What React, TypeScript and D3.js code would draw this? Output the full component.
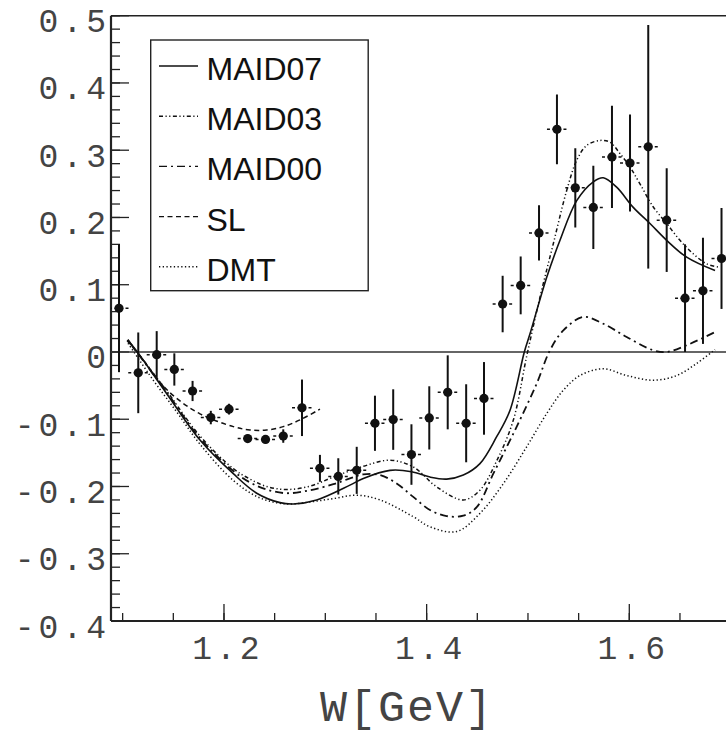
import React from "react";
import * as d3 from "d3";

// ---- data (W in GeV, asymmetry) ----
const dataW = [1.0964, 1.1154, 1.1336, 1.151, 1.169, 1.187, 1.205, 1.2234, 1.241, 1.2585, 1.277, 1.2947, 1.3128, 1.331, 1.349, 1.367, 1.385, 1.4026, 1.4208, 1.439, 1.4566, 1.475, 1.4928, 1.5109, 1.5286, 1.5467, 1.5645, 1.5829, 1.6007, 1.6187, 1.6369, 1.655, 1.6727, 1.691];
const dataV = [0.065, -0.031, -0.004, -0.026, -0.058, -0.0975, -0.085, -0.1287, -0.13, -0.125, -0.083, -0.173, -0.185, -0.176, -0.106, -0.1005, -0.1525, -0.098, -0.06, -0.106, -0.069, 0.0713, 0.099, 0.177, 0.331, 0.244, 0.215, 0.29, 0.281, 0.305, 0.196, 0.08, 0.091, 0.139];
const dataErr = [0.095, 0.06, 0.035, 0.024, 0.015, 0.01, 0.008, 0.006, 0.006, 0.01, 0.042, 0.02, 0.027, 0.035, 0.041, 0.045, 0.045, 0.047, 0.055, 0.058, 0.054, 0.042, 0.043, 0.041, 0.052, 0.059, 0.062, 0.076, 0.072, 0.181, 0.077, 0.08, 0.079, 0.075];

const maid07: [number, number][] = [
  [1.105, 0.018], [1.1154, -0.002], [1.1435, -0.062], [1.1763, -0.131], [1.2092, -0.181], [1.2323, -0.21],
  [1.2553, -0.224], [1.2684, -0.226], [1.2915, -0.22], [1.3243, -0.198], [1.3375, -0.188], [1.3638, -0.176],
  [1.3852, -0.178], [1.4033, -0.186], [1.4198, -0.189], [1.4362, -0.183], [1.4526, -0.166], [1.4691, -0.126],
  [1.4822, -0.087], [1.4964, 0.0], [1.502, 0.027], [1.5185, 0.111], [1.5316, 0.166], [1.5481, 0.225],
  [1.5645, 0.253], [1.5743, 0.259], [1.5875, 0.245], [1.6039, 0.215], [1.6204, 0.191], [1.6369, 0.166],
  [1.6566, 0.141], [1.6846, 0.121],
];
const maid03: [number, number][] = [
  [1.105, 0.018], [1.1435, -0.058], [1.1763, -0.125], [1.2092, -0.1735], [1.2257, -0.189], [1.2421, -0.2],
  [1.2619, -0.2045], [1.2849, -0.1995], [1.3079, -0.186], [1.3375, -0.17], [1.3638, -0.161], [1.3868, -0.171],
  [1.4099, -0.2006], [1.4362, -0.22], [1.4526, -0.2055], [1.4691, -0.162], [1.4855, -0.1015], [1.4987, -0.0064],
  [1.5119, 0.0817], [1.525, 0.161], [1.5382, 0.24], [1.5481, 0.285], [1.5579, 0.307], [1.5711, 0.3145],
  [1.5809, 0.312], [1.5908, 0.295], [1.6007, 0.275], [1.6105, 0.25], [1.6237, 0.2155], [1.6369, 0.191],
  [1.65, 0.166], [1.6631, 0.146], [1.6764, 0.131], [1.6895, 0.126],
];
const maid00: [number, number][] = [
  [1.105, 0.018], [1.1435, -0.06], [1.1763, -0.128], [1.2092, -0.177], [1.2257, -0.194], [1.2421, -0.2045],
  [1.2619, -0.21], [1.2849, -0.2055], [1.3079, -0.1966], [1.3243, -0.188], [1.3375, -0.182], [1.354, -0.183],
  [1.3704, -0.1955], [1.3868, -0.2155], [1.4033, -0.235], [1.4198, -0.244], [1.4362, -0.2434], [1.4494, -0.2308],
  [1.4658, -0.181], [1.4889, -0.111], [1.5086, -0.047], [1.5217, 0.0025], [1.5349, 0.032], [1.5546, 0.052],
  [1.5743, 0.042], [1.5974, 0.0223], [1.6237, 0.0025], [1.6369, 0.0], [1.6566, 0.01], [1.6846, 0.0297],
];
const sl: [number, number][] = [
  [1.1043, 0.017], [1.1204, -0.012], [1.1368, -0.045], [1.1533, -0.069], [1.1763, -0.092], [1.2092, -0.111],
  [1.2257, -0.116], [1.2421, -0.116], [1.2585, -0.111], [1.275, -0.101], [1.2947, -0.085],
];
const dmt: [number, number][] = [
  [1.1053, 0.013], [1.1302, -0.042], [1.1533, -0.089], [1.1763, -0.137], [1.2092, -0.191], [1.2355, -0.217],
  [1.2619, -0.226], [1.2849, -0.223], [1.3079, -0.218], [1.331, -0.213], [1.354, -0.22], [1.3868, -0.245],
  [1.4033, -0.26], [1.4296, -0.267], [1.4526, -0.24], [1.4756, -0.196], [1.4987, -0.141], [1.5185, -0.0915],
  [1.5348, -0.057], [1.5513, -0.035], [1.5743, -0.025], [1.5974, -0.035], [1.6237, -0.042], [1.6468, -0.035],
  [1.6665, -0.017], [1.6846, 0.0036],
];

const yTicks = [0.5, 0.4, 0.3, 0.2, 0.1, 0, -0.1, -0.2, -0.3, -0.4];
const yTickLabels = ["0.5", "0.4", "0.3", "0.2", "0.1", "0", "-0.1", "-0.2", "-0.3", "-0.4"];
const xTicks = [1.2, 1.4, 1.6];
const xTickLabels = ["1.2", "1.4", "1.6"];
const legendNames = ["MAID07", "MAID03", "MAID00", "SL", "DMT"];
const xTitle = "W[GeV]";

const W = 726, H = 734;
const L = 111, T = 15.7, B = 621;

export default function App() {
  const x = d3.scaleLinear().domain([1.0885, 1.7]).range([L, L + 0.6115 * 1013.3]);
  const y = d3.scaleLinear().domain([-0.4, 0.5]).range([B, T]);
  const line = d3.line<[number, number]>().x(d => x(d[0])).y(d => y(d[1])).curve(d3.curveCatmullRom.alpha(0.5));

  const styles = [
    { data: maid07, dash: "none", w: 1.6 },
    { data: maid03, dash: "4,2.5,1.2,2.5,1.2,2.5", w: 1.5 },
    { data: maid00, dash: "8,4,2,4", w: 1.8 },
    { data: sl, dash: "5,3.5", w: 1.5 },
    { data: dmt, dash: "1.3,2.4", w: 1.5 },
  ];

  const minorY = d3.range(-0.4, 0.5001, 0.02);
  const minorX = d3.range(1.1, 1.7001, 0.05);
  const monoFont = "'Liberation Mono', 'DejaVu Sans Mono', monospace";
  const sansFont = "'Liberation Sans', Arial, sans-serif";

  return (
    <svg width={W} height={H} style={{ position: "absolute", left: 0, top: 0, background: "#fff" }}>
      <defs>
        <clipPath id="plot">
          <rect x={L} y={T} width={W - L} height={B - T} />
        </clipPath>
      </defs>
      {/* frame */}
      <line x1={L} x2={W} y1={T} y2={T} stroke="#222" strokeWidth={1.4} />
      <line x1={L} x2={W} y1={B} y2={B} stroke="#222" strokeWidth={2.2} />
      <line x1={L} x2={L} y1={T} y2={B} stroke="#222" strokeWidth={2.2} />
      {/* y ticks */}
      {minorY.map((v, i) => (
        <line key={"my" + i} x1={L} x2={L + 9} y1={y(v)} y2={y(v)} stroke="#222" strokeWidth={1.3} />
      ))}
      {yTicks.map((v, i) => (
        <g key={"y" + i}>
          <line x1={L} x2={L + 18} y1={y(v)} y2={y(v)} stroke="#222" strokeWidth={1.3} />
          <text x={L - 1} y={y(v) + 16.5} textAnchor="end" fontFamily={monoFont} fontSize={33} letterSpacing={4} fill="#444">
            {yTickLabels[i]}
          </text>
        </g>
      ))}
      {/* x ticks */}
      {minorX.map((v, i) => (
        <line key={"mx" + i} x1={x(v)} x2={x(v)} y1={B} y2={B - 8} stroke="#222" strokeWidth={1.3} />
      ))}
      {xTicks.map((v, i) => (
        <g key={"x" + i}>
          <line x1={x(v)} x2={x(v)} y1={B} y2={B - 17} stroke="#222" strokeWidth={1.3} />
          <text x={x(v) + 4} y={659} textAnchor="middle" fontFamily={monoFont} fontSize={33} letterSpacing={4} fill="#444">
            {xTickLabels[i]}
          </text>
        </g>
      ))}
      <text x={407} y={721} textAnchor="middle" fontFamily={monoFont} fontSize={45} letterSpacing={2} fill="#444">
        {xTitle}
      </text>
      {/* zero line */}
      <line x1={L} x2={W} y1={y(0)} y2={y(0)} stroke="#333" strokeWidth={1.3} />
      <g clipPath="url(#plot)">
        {styles.map((s, i) => (
          <path key={"c" + i} d={line(s.data) || ""} fill="none" stroke="#111" strokeWidth={s.w} strokeDasharray={s.dash} />
        ))}
        {dataW.map((w, i) => (
          <g key={"p" + i}>
            <line x1={x(w)} x2={x(w)} y1={y(dataV[i] + dataErr[i])} y2={y(dataV[i] - dataErr[i])} stroke="#111" strokeWidth={2} />
            <line x1={x(w) - 10} x2={x(w) + 10} y1={y(dataV[i])} y2={y(dataV[i])} stroke="#111" strokeWidth={1.5} strokeDasharray="3,2.5" />
            <circle cx={x(w)} cy={y(dataV[i])} r={4.6} fill="#111" />
          </g>
        ))}
      </g>
      {/* legend */}
      <rect x={150.7} y={40} width={217.5} height={250.7} fill="#fff" stroke="#222" strokeWidth={1.4} />
      {legendNames.map((n, i) => {
        const base = 80 + i * 50.2;
        const s = styles[i];
        return (
          <g key={"l" + i}>
            <line x1={159} x2={198} y1={base - 14} y2={base - 14} stroke="#111" strokeWidth={1.4} strokeDasharray={s.dash} />
            <text x={206.5} y={base} fontFamily={sansFont} fontSize={32} fill="#111">{n}</text>
          </g>
        );
      })}
    </svg>
  );
}
